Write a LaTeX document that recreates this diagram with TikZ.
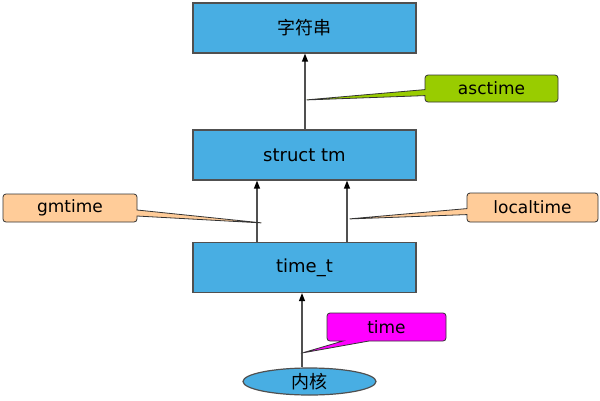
\documentclass[tikz,border=0pt]{standalone}
\usepackage{fontspec}
\setmainfont{DejaVu Sans}
\newfontfamily\cjk{Noto Sans CJK SC}
\usetikzlibrary{shapes.geometric,shapes.callouts,arrows.meta}
\definecolor{boxblue}{HTML}{48AEE3}
\definecolor{callgreen}{HTML}{99CC00}
\definecolor{callorange}{HTML}{FFCC99}
\definecolor{callmag}{HTML}{FF00FF}
\definecolor{edgegray}{HTML}{505050}
\tikzset{
  bluebox/.style={draw=edgegray, line width=1.2pt, fill=boxblue, minimum width=223pt, minimum height=50pt, inner sep=0pt, font=\fontsize{18}{20}\selectfont},
  callbox/.style={rectangle callout, draw=black!80, line width=0.8pt, rounded corners=3pt, inner sep=0pt, font=\fontsize{17}{19}\selectfont, callout pointer width=6pt},
  conn/.style={draw=edgegray, line width=1.3pt, -{Triangle[length=8pt,width=6pt,fill=black,color=black]}},
}
\begin{document}
\begin{tikzpicture}[x=1pt,y=-1pt]
\useasboundingbox[fill=white] (0,0) rectangle (600,400);
\node[bluebox] (str) at (304.5,28) {\cjk 字符串};
\node[bluebox] (tm) at (304.5,155) {struct tm};
\node[bluebox] (tt) at (304.5,267.5) {time\_t};
\node[ellipse, draw=edgegray, line width=1.2pt, fill=boxblue, minimum width=133pt, minimum height=27pt, inner sep=0pt, font=\fontsize{18}{20}\selectfont] (core) at (309.5,381.5) {\cjk 内核};
\draw[conn] (core.north -| 302,0) coordinate (c1) -- (c1 |- tt.south);
\draw[conn] ([xshift=-47.5pt]tt.north) -- ([xshift=-47.5pt]tm.south);
\draw[conn] ([xshift=42.5pt]tt.north) -- ([xshift=42.5pt]tm.south);
\draw[conn] ([xshift=0.5pt]tm.north) -- ([xshift=0.5pt]str.south);
\coordinate (pa) at (305,100);
\coordinate (pg) at (263,223);
\coordinate (pl) at (348,219);
\coordinate (pt) at (302,353);
\node[callbox, fill=callgreen, minimum width=133pt, minimum height=27pt, callout absolute pointer={(pa)}] (asc) at (491.5,88.5) {asctime};
\node[callbox, fill=callorange, minimum width=134pt, minimum height=28pt, callout absolute pointer={(pg)}] (gm) at (70,208) {gmtime};
\node[callbox, fill=callorange, minimum width=131pt, minimum height=29pt, callout absolute pointer={(pl)}] (lt) at (532.5,207.5) {localtime};
\node[callbox, fill=callmag, minimum width=119pt, minimum height=28pt, callout pointer width=26pt, callout absolute pointer={(pt)}] (tm2) at (386.5,327) {time};
\end{tikzpicture}
\end{document}
